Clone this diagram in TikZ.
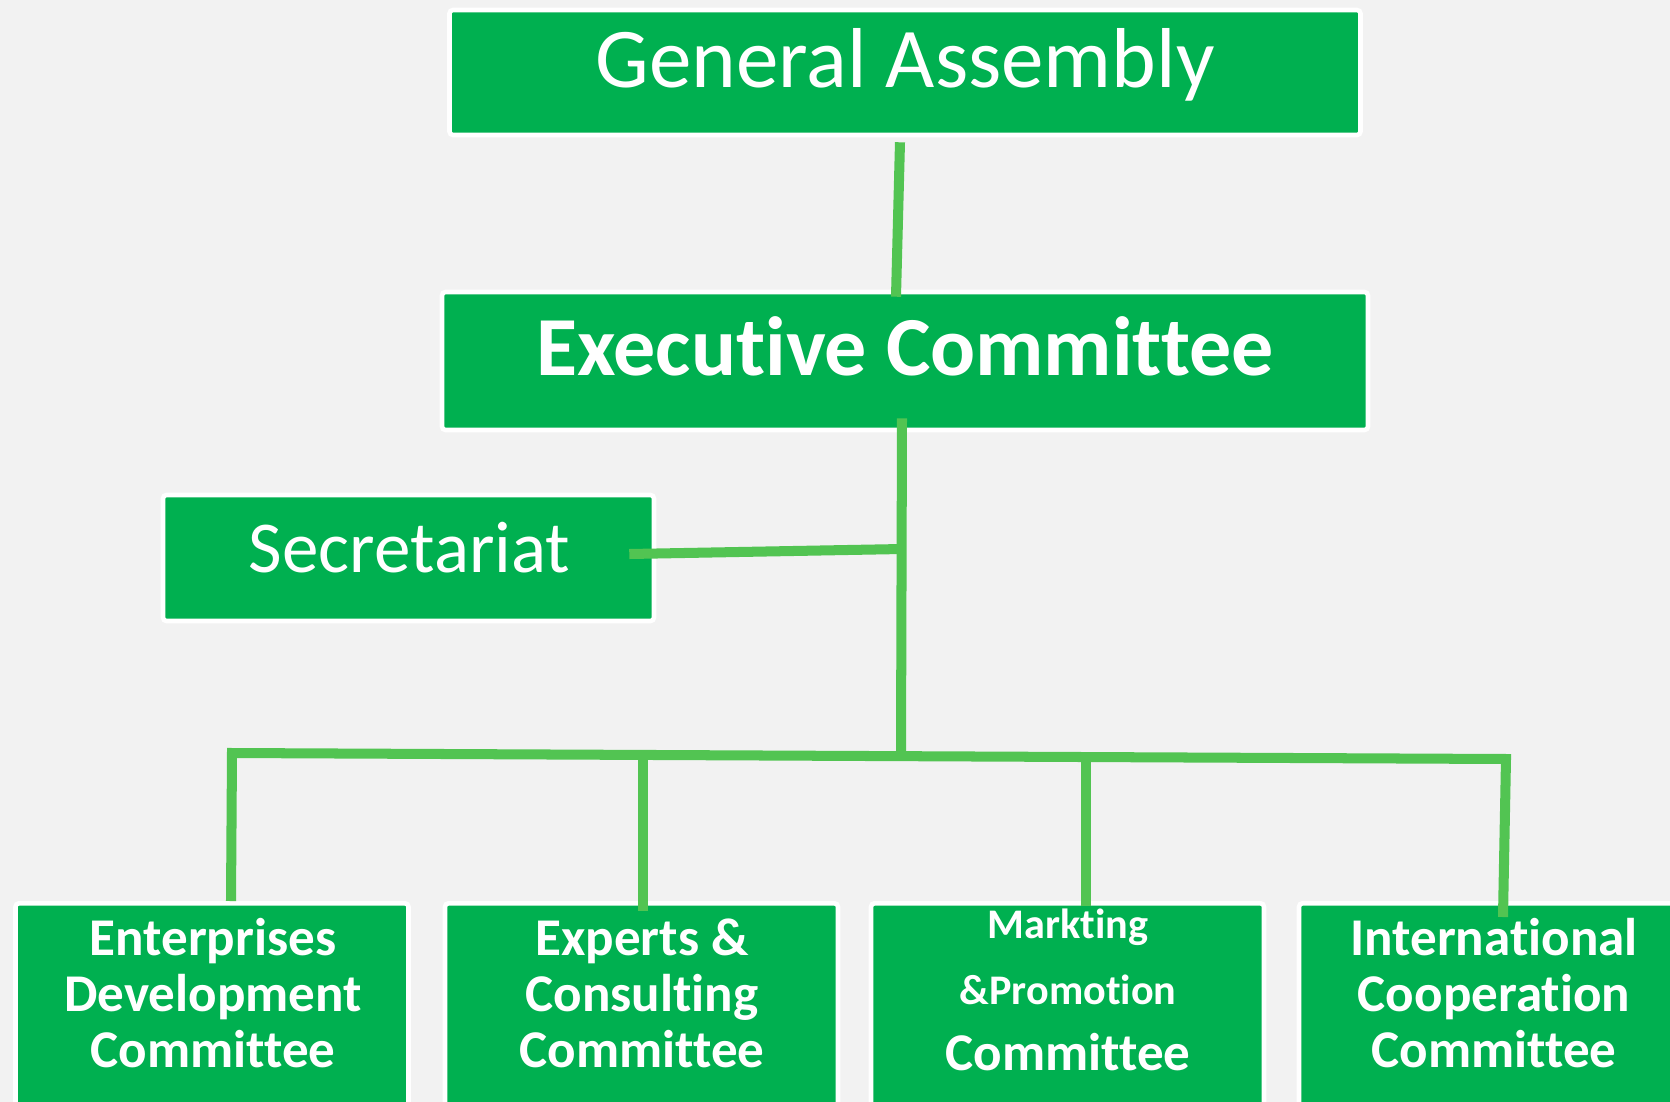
\documentclass[tikz,border=0pt]{standalone}
\usepackage{fontspec}
\setmainfont{Carlito}[Ligatures=NoCommon]
\usetikzlibrary{positioning}
\definecolor{boxgreen}{HTML}{00B050}
\definecolor{linkgreen}{HTML}{52C452}
\definecolor{pagegray}{HTML}{F2F2F2}

\begin{document}
\begin{tikzpicture}[
        unitbox/.style={rectangle, draw=white, line width=1.3pt, rounded corners=1pt, fill=boxgreen, inner sep=0pt},
        headtext/.style={anchor=base, text=white, inner sep=0pt},
        subtext/.style={anchor=north, text=white, align=center, inner sep=0pt, font=\bfseries\fontsize{15.1}{15.9}\selectfont},
        linkline/.style={draw=linkgreen, line width=2.85pt}
    ]

    % page
    \useasboundingbox (0,0) rectangle (16.7,-11.02);
    \clip (0,0) rectangle (16.7,-11.02);
    \fill[pagegray] (0,0) rectangle (16.7,-11.02);

    % Top levels
    \node[unitbox, minimum width=9.11cm, minimum height=1.25cm] (ga) at (9.05,-0.725) {};
    \node[headtext, font=\fontsize{24.2}{29}\selectfont] (gatext) at (9.05,-0.87) {General Assembly};

    \node[unitbox, minimum width=9.26cm, minimum height=1.38cm] (ec) at (9.05,-3.61) {};
    \node[headtext, font=\bfseries\fontsize{23.9}{29}\selectfont] (ectext) at (9.05,-3.75) {Executive Committee};

    \node[unitbox, minimum width=4.91cm, minimum height=1.26cm] (sec) at (4.085,-5.58) {};
    \node[headtext, font=\fontsize{20.8}{25}\selectfont] (sectext) at (4.095,-5.72) {Secretariat};

    % Committees
    \node[unitbox, anchor=north, minimum width=3.93cm, minimum height=2.4cm] (edc) at (2.12,-9.01) {};
    \node[subtext] (edctext) at (2.13,-9.18) {Enterprises\\Development\\Committee};

    \node[unitbox, anchor=north, minimum width=3.93cm, minimum height=2.4cm] (ecc) at (6.415,-9.01) {};
    \node[subtext] (ecctext) at (6.42,-9.18) {Experts \&\\Consulting\\Committee};

    \node[unitbox, anchor=north, minimum width=3.93cm, minimum height=2.4cm] (mpc) at (10.675,-9.01) {};
    \node[subtext] (mpctext) at (10.68,-9.08) {{\fontsize{12}{17.9}\selectfont Markting}\\[2.8pt]{\fontsize{12}{17.9}\selectfont \&Promotion}\\[2.9pt]Committee};

    \node[unitbox, anchor=north, minimum width=3.93cm, minimum height=2.4cm] (icc) at (14.955,-9.01) {};
    \node[subtext] (icctext) at (14.94,-9.18) {International\\Cooperation\\Committee};

    % Connectors
    \coordinate (hub) at (9.02,-5.49);
    \coordinate (busM) at (9.01,-7.56);
    \coordinate (busL) at (2.32,-7.53);
    \coordinate (busR) at (15.06,-7.59);

    \draw[linkline] ([xshift=-0.05cm,yshift=-0.05cm]ga.south) -- ([xshift=-0.09cm,yshift=-0.07cm]ec.north);
    \draw[linkline] ([xshift=-0.03cm,yshift=0.14cm]ec.south) -- (busM);
    \draw[linkline] ([xshift=-0.27cm,yshift=0.04cm]sec.east) -- (hub);
    \draw[linkline] ([xshift=0.19cm]edc.north) -- (busL) -- (busR) -- ([xshift=0.075cm,yshift=-0.16cm]icc.north);
    \draw[linkline] ([xshift=0.015cm]ecc.north |- busM) -- ([xshift=0.015cm,yshift=-0.1cm]ecc.north);
    \draw[linkline] ([xshift=0.185cm]mpc.north |- busM) -- ([xshift=0.185cm,yshift=-0.05cm]mpc.north);

\end{tikzpicture}
\end{document}
